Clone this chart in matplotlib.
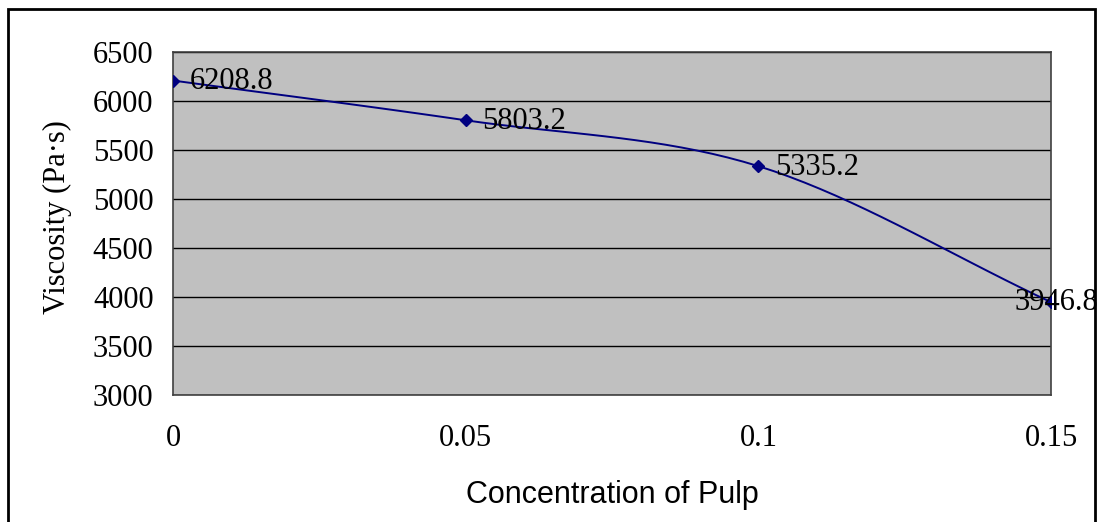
import matplotlib.pyplot as plt
import numpy as np
from matplotlib.patches import Rectangle

# data
concentration = [0, 0.05, 0.1, 0.15]
viscosity = [6208.8, 5803.2, 5335.2, 3946.8]
point_labels = ["6208.8", "5803.2", "5335.2", "3946.8"]
y_ticks = [3000, 3500, 4000, 4500, 5000, 5500, 6000, 6500]
x_ticks = [0, 0.05, 0.1, 0.15]
x_tick_labels = ["0", "0.05", "0.1", "0.15"]

plt.rcParams["font.family"] = ["Liberation Serif", "DejaVu Serif"]


def smooth_curve(xs, ys, steps=20):
    # Catmull-Rom style smoothing through the points (like Excel's smoothed line)
    px = np.array(xs, dtype=float)
    py = np.array(ys, dtype=float)
    px = np.concatenate([[2 * px[0] - px[1]], px, [2 * px[-1] - px[-2]]])
    py = np.concatenate([[2 * py[0] - py[1]], py, [2 * py[-1] - py[-2]]])
    outx, outy = [], []
    for i in range(1, len(px) - 2):
        t = np.linspace(0, 1, steps)
        for arr, out in ((px, outx), (py, outy)):
            p0, p1, p2, p3 = arr[i - 1], arr[i], arr[i + 1], arr[i + 2]
            c1 = p1 + (p2 - p0) / 6
            c2 = p2 - (p3 - p1) / 6
            out.extend((1 - t) ** 3 * p1 + 3 * (1 - t) ** 2 * t * c1
                       + 3 * (1 - t) * t ** 2 * c2 + t ** 3 * p2)
    return outx, outy


fig = plt.figure(figsize=(10.99, 5.22), dpi=100)
ax = fig.add_axes([0.1574, 0.2433, 0.7990, 0.6571])
ax.set_facecolor("#c0c0c0")

sx, sy = smooth_curve(concentration, viscosity)
ax.plot(sx, sy, color="#000080", lw=1.4, zorder=3)
ax.plot(concentration, viscosity, linestyle="none", marker="D", markersize=6,
        color="#000080", zorder=4)

for i, (x, y, lab) in enumerate(zip(concentration, viscosity, point_labels)):
    if i == len(concentration) - 1:
        ax.annotate(lab, (x, y), xytext=(4, 0), textcoords="offset points",
                    ha="center", va="center", fontsize=22,
                    annotation_clip=False, zorder=5)
    else:
        ax.annotate(lab, (x, y), xytext=(12, -1), textcoords="offset points",
                    ha="left", va="center", fontsize=22, zorder=5)

ax.set_xlim(0, 0.15)
ax.set_ylim(3000, 6500)
ax.set_yticks(y_ticks)
ax.set_yticklabels([str(v) for v in y_ticks], fontsize=22)
ax.set_xticks(x_ticks)
ax.set_xticklabels(x_tick_labels, fontsize=22)
ax.tick_params(axis="y", length=0, pad=14)
ax.tick_params(axis="x", length=0, pad=21)
ax.grid(axis="y", color="black", lw=1)
ax.set_axisbelow(True)
for side in ["left", "bottom", "right", "top"]:
    ax.spines[side].set_color("#404040")
    ax.spines[side].set_linewidth(1.2)

fig.text(0.052, 0.584, "Viscosity (Pa·s)", ha="center", va="center",
         rotation=90, fontsize=22)
fig.text(0.557, 0.052, "Concentration of Pulp", ha="center", va="center",
         fontsize=22, family=["Liberation Sans Narrow", "Liberation Sans", "DejaVu Sans"])

# outer chart border
fig.patches.append(Rectangle((8 / 1099, -0.05), 1087 / 1099, 1.05 - 9 / 522,
                             transform=fig.transFigure, fill=False,
                             edgecolor="black", lw=2))

plt.savefig("out.png", dpi=100)
